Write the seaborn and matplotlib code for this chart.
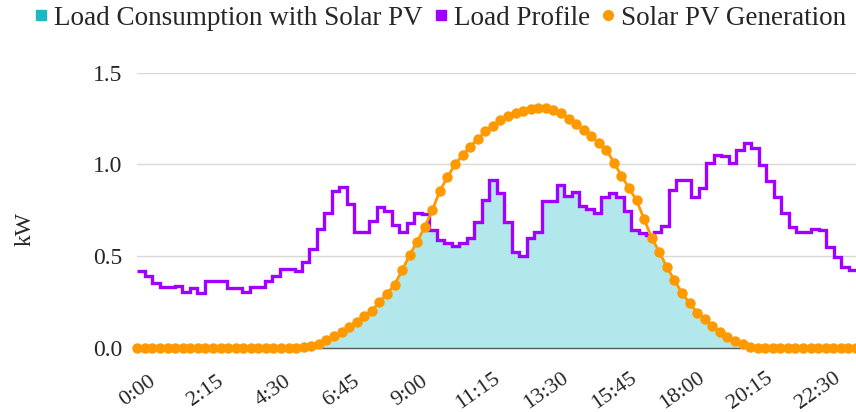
import numpy as np
import matplotlib
matplotlib.use("Agg")
import matplotlib.pyplot as plt
from matplotlib.lines import Line2D
import seaborn as sns

# 15-minute samples over one day (96 points)
load_profile = [
    0.42, 0.39, 0.353, 0.33, 0.33, 0.335, 0.305, 0.325, 0.30, 0.365,
    0.365, 0.365, 0.325, 0.325, 0.305, 0.33, 0.33, 0.365, 0.39, 0.43,
    0.43, 0.42, 0.465, 0.54, 0.645, 0.735, 0.857, 0.875, 0.785, 0.63,
    0.63, 0.69, 0.77, 0.745, 0.67, 0.63, 0.68, 0.733, 0.73, 0.64,
    0.587, 0.57, 0.556, 0.57, 0.596, 0.687, 0.805, 0.915, 0.845, 0.684,
    0.524, 0.502, 0.60, 0.633, 0.80, 0.80, 0.887, 0.83, 0.85, 0.773,
    0.755, 0.736, 0.824, 0.845, 0.824, 0.747, 0.642, 0.624, 0.615, 0.633,
    0.664, 0.86, 0.915, 0.915, 0.824, 0.87, 1.005, 1.05, 1.045, 1.005,
    1.078, 1.118, 1.09, 0.996, 0.909, 0.824, 0.733, 0.66, 0.63, 0.63,
    0.645, 0.642, 0.55, 0.496, 0.44, 0.424,
]
solar_pv = [
    0, 0, 0, 0, 0, 0, 0, 0, 0, 0,
    0, 0, 0, 0, 0, 0, 0, 0, 0, 0,
    0, 0, 0.002, 0.008, 0.022, 0.04, 0.062, 0.087, 0.115, 0.142,
    0.175, 0.2, 0.25, 0.295, 0.343, 0.422, 0.506, 0.579, 0.66, 0.75,
    0.857, 0.93, 1.0, 1.05, 1.097, 1.14, 1.18, 1.21, 1.24, 1.263,
    1.278, 1.29, 1.30, 1.305, 1.305, 1.296, 1.278, 1.25, 1.22, 1.187,
    1.155, 1.118, 1.08, 1.01, 0.937, 0.87, 0.803, 0.70, 0.60, 0.522,
    0.44, 0.368, 0.298, 0.244, 0.192, 0.155, 0.12, 0.085, 0.058, 0.035,
    0.018, 0.006, 0, 0, 0, 0, 0, 0, 0, 0,
    0, 0, 0, 0, 0, 0,
]
tick_labels = ["0:00", "2:15", "4:30", "6:45", "9:00", "11:15",
               "13:30", "15:45", "18:00", "20:15", "22:30"]
tick_step = 9

load = np.array(load_profile)
pv = np.array(solar_pv)
n = len(pv)
x = np.arange(n)

sns.set_theme(style="white")
plt.rcParams["font.family"] = ["Liberation Serif", "DejaVu Serif"]

c_fill = "#b2e8eb"
c_fill_key = "#1cb8c4"
c_load = "#a000ff"
c_pv = "#ff9900"

fig = plt.figure(figsize=(8.56, 4.12), dpi=100)
ax = fig.add_axes([0.1604, 0.156, 0.8396, 0.6676])

# load profile steps span the full width
edges = np.linspace(0, n - 1, n + 1)

# consumption covered by PV = min(load, pv)
xf = np.linspace(0, n - 1, 3000)
idx = np.minimum(np.searchsorted(edges, xf, side="right") - 1, n - 1)
cover = np.minimum(load[idx], np.interp(xf, x, pv))
ax.fill_between(xf, 0, cover, color=c_fill, lw=0, zorder=1)

ax.stairs(load, edges, baseline=None, color=c_load, lw=2.4, zorder=4,
          clip_on=False)
sns.lineplot(x=x, y=pv, ax=ax, color=c_pv, lw=2.0, marker="o",
             markersize=7.5, markeredgewidth=0, zorder=5, clip_on=False)

ax.set_xlim(0, n - 1)
ax.set_ylim(0, 1.5)
ax.set_yticks([0, 0.5, 1.0, 1.5])
ax.set_yticklabels(["0.0", "0.5", "1.0", "1.5"])
ax.set_xticks(np.arange(0, n, tick_step))
ax.set_xticklabels(tick_labels, rotation=35, ha="center", va="center")
ax.tick_params(axis="y", length=0, pad=11, labelsize=17, colors="#262626")
ax.tick_params(axis="x", length=0, pad=31, labelsize=16, colors="#262626")

ax.grid(axis="y", color="#d9d9d9", lw=1.0)
ax.set_axisbelow(True)
for s in ["top", "right", "left"]:
    ax.spines[s].set_visible(False)
ax.spines["bottom"].set_color("#595959")
ax.spines["bottom"].set_linewidth(1.0)
ax.spines["bottom"].set_zorder(2)

ax.set_ylabel("kW", fontsize=17, color="#262626")
ax.yaxis.set_label_coords(-0.142, 0.43)

handles = [
    Line2D([], [], ls="none", marker="s", ms=7, color=c_fill_key),
    Line2D([], [], ls="none", marker="s", ms=7, color=c_load),
    Line2D([], [], ls="none", marker="o", ms=7, color=c_pv),
]
fig.legend(handles, ["Load Consumption with Solar PV", "Load Profile",
                     "Solar PV Generation"],
           loc="center", bbox_to_anchor=(0.515, 0.956), ncol=3, frameon=False,
           fontsize=19.5, handlelength=0.4, handletextpad=0.3,
           columnspacing=0.45, labelcolor="#262626")

fig.savefig("out.png", dpi=100)
